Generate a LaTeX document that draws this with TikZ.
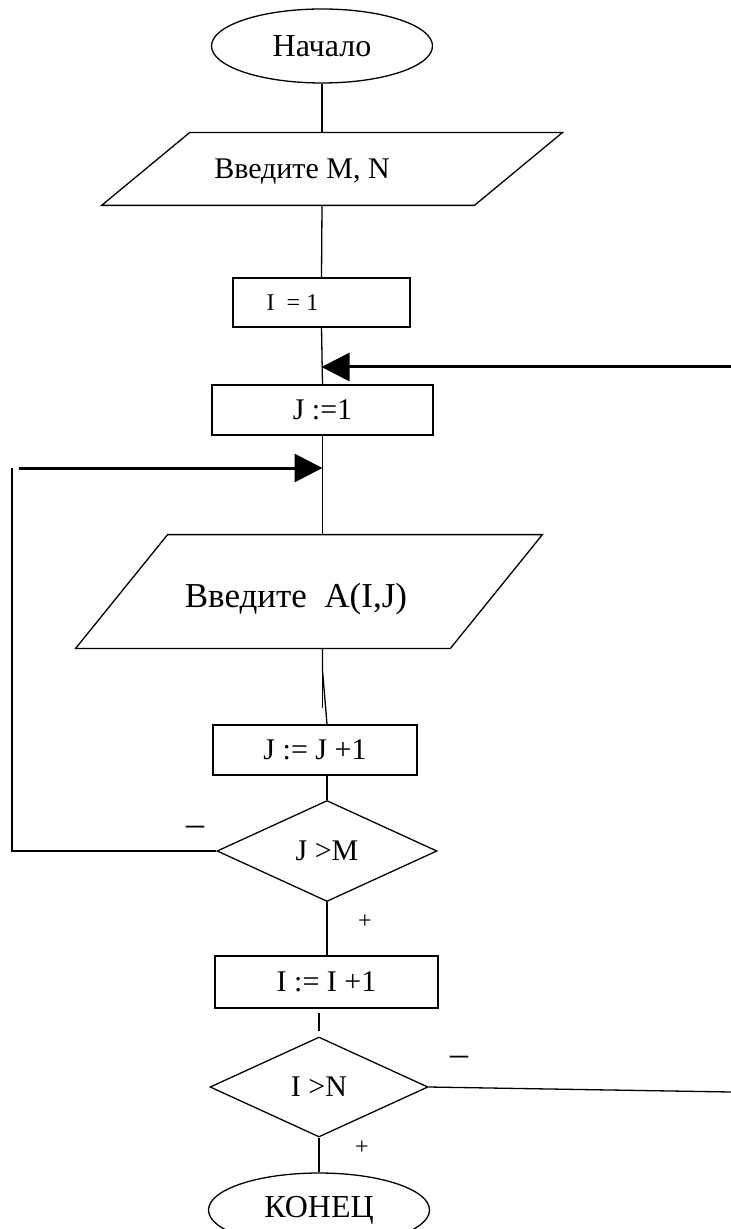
\documentclass[tikz,border=0pt]{standalone}
\usepackage{fontspec}
\setmainfont{Liberation Serif}
\usetikzlibrary{shapes.geometric,arrows.meta}

\begin{document}
\begin{tikzpicture}[x=0.5pt,y=-0.5pt]
  \tikzstyle{every node}=[font=\fontsize{15}{18}\selectfont]
  \tikzstyle{flow}=[line width=0.65pt]
  \tikzstyle{back}=[line width=1.5pt,-{Triangle[length=14pt,width=14pt]}]
  \tikzstyle{term}=[flow,draw,ellipse,inner sep=0pt,minimum width=110.5pt,minimum height=37pt,font=\fontsize{16}{19}\selectfont]
  \tikzstyle{proc}=[flow,draw,inner sep=0pt,minimum height=25pt]
  \tikzstyle{io}=[inner sep=0pt]
  \tikzstyle{test}=[flow,draw,diamond,inner sep=0pt]
  \tikzstyle{sign}=[inner sep=0pt,font=\fontsize{12}{14}\selectfont]
  \useasboundingbox (0,0) rectangle (731,1229);

  \node[term] (start) at (322,46) {Начало};
  \node[io,minimum width=186pt,minimum height=36pt,
        label={[xshift=-15pt,yshift=-1.5pt]center:Введите M, N}] (inMN) at (332,169) {};
  \draw[flow] ([xshift=-22pt]inMN.south west) -- ([xshift=22pt]inMN.north west)
      -- ([xshift=22pt]inMN.north east) -- ([xshift=-22pt]inMN.south east) -- cycle;
  \node[proc,minimum width=88.5pt,minimum height=24.5pt,
        label={[xshift=-14.5pt,font=\fontsize{12}{14}\selectfont]center:I~~= 1}] (setI) at (321.5,302.5) {};
  \node[proc,minimum width=110.5pt] (setJ) at (322.5,410) {J :=1};
  \node[io,minimum width=187pt,minimum height=56.5pt,
        label={[xshift=-6.5pt,yshift=-4pt,font=\fontsize{17.5}{20}\selectfont]center:Введите~~A(I,J)}] (inA) at (309,591.5) {};
  \draw[flow] ([xshift=-23pt]inA.south west) -- ([xshift=23pt]inA.north west)
      -- ([xshift=23pt]inA.north east) -- ([xshift=-23pt]inA.south east) -- cycle;
  \node[proc,minimum width=102pt] (incJ) at (315,750) {J := J +1};
  \node[test,minimum width=110pt,minimum height=50.5pt] (testJ) at (327,851) {J >M};
  \node[proc,minimum width=111.5pt,minimum height=26pt] (incI) at (326.5,982) {I := I +1};
  \node[test,minimum width=109pt,minimum height=50pt] (testI) at (319,1087) {I >N};
  \node[term] (stop) at (319,1210) {КОНЕЦ};

  \node[sign,font=\fontsize{18}{20}\selectfont] (minusJ) at (195,831) {–};
  \node[sign] (plusJ) at (365,922) {+};
  \node[sign,font=\fontsize{18}{20}\selectfont] (minusI) at (459,1061) {–};
  \node[sign] (plusI) at (362,1148) {+};

  \coordinate (inR) at (731,367);
  \coordinate (inL) at (19,468);
  \coordinate (loopL) at (12,851);
  \coordinate (outR) at (731,1092);

  \draw[flow] (start.south) -- (start.south |- inMN.north);
  \draw[flow] (start.south |- inMN.south) -- (setI.north);
  \draw[flow] (setI.south) -- (setJ.north);
  \draw[flow] (setJ.south) -- (setJ.south |- inA.north);
  \draw[flow] (setJ.south |- inA.south) -- ++(0,22) -- (incJ.north -| testJ.north);
  \draw[flow] (setJ.south |- inA.south) ++(0,22) -- ++(0,38);
  \draw[flow] (incJ.south -| testJ.north) -- (testJ.north);
  \draw[flow] (testJ.south) -- (incI.north -| testJ.south);
  \draw[flow,shorten <=2pt,shorten >=2.5pt] (incI.south -| testI.north) -- (testI.north);
  \draw[flow] (testI.south) -- (stop.north);
  \draw[flow] (testJ.west) -- (loopL) -- (loopL |- inL);
  \draw[back] (inL) -- (inL -| setJ.south);
  \draw[back] (inR) -- (inR -| setI.south);
  \draw[flow] (testI.east) -- (outR);
\end{tikzpicture}
\end{document}
